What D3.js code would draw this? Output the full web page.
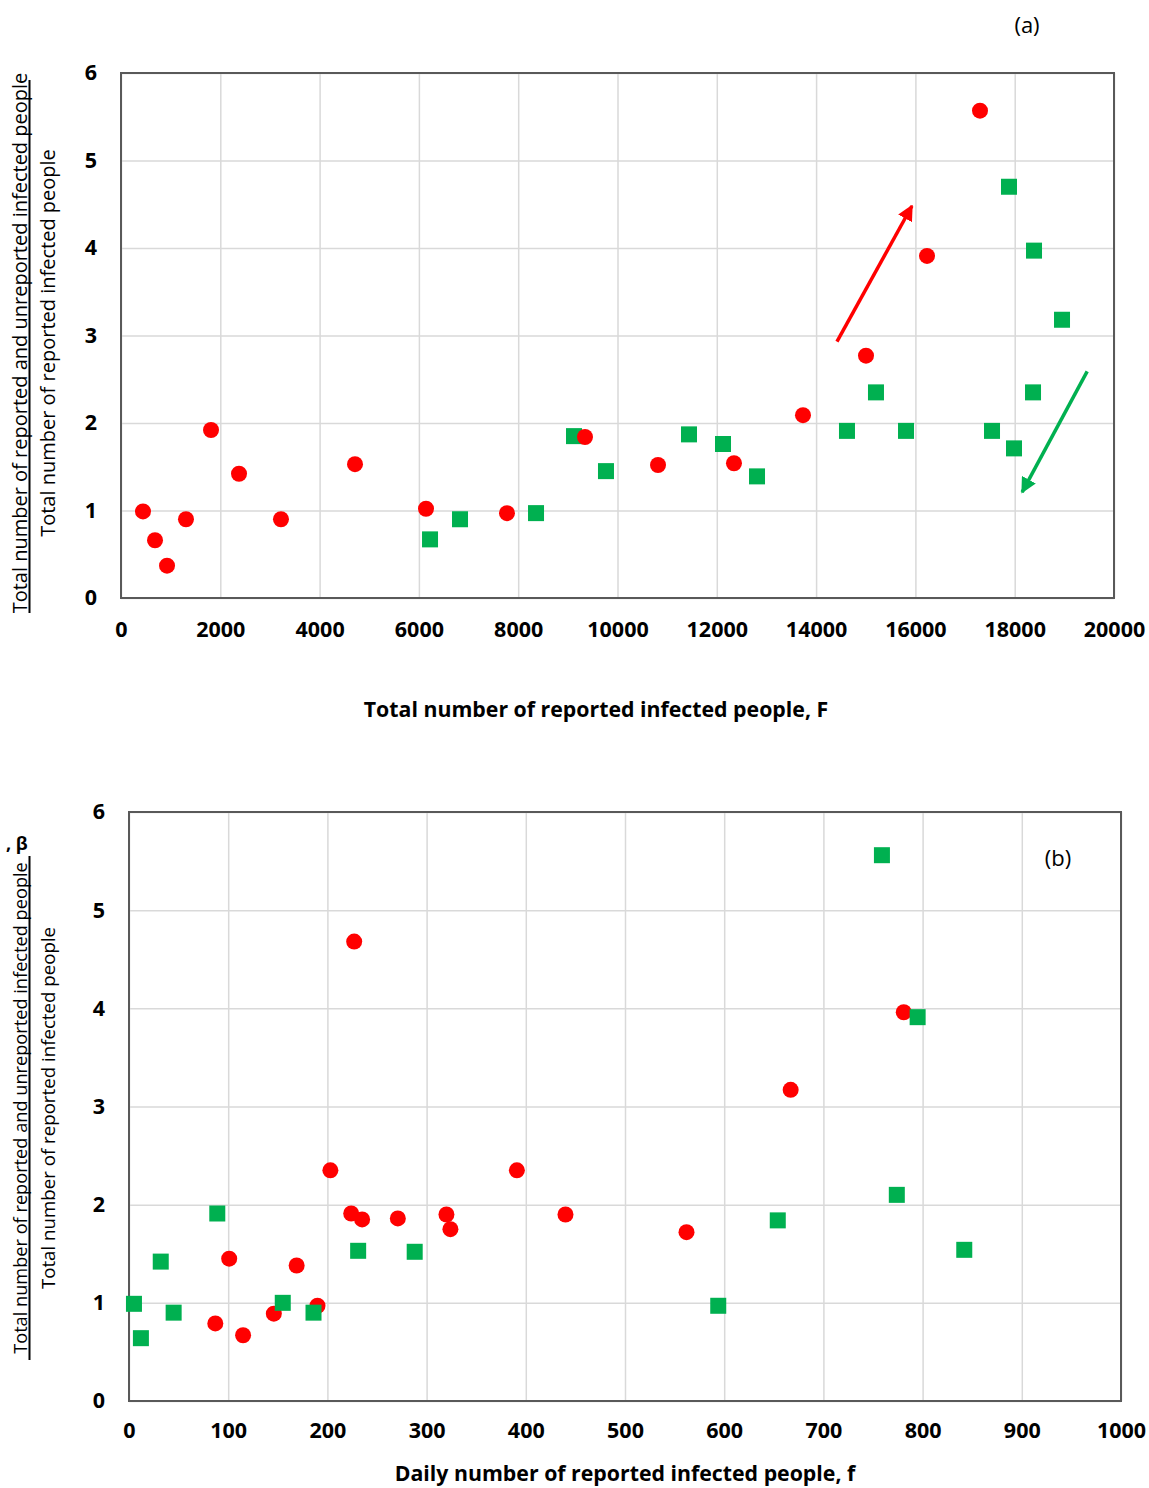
<!DOCTYPE html>
<html>
<head>
<meta charset="utf-8">
<script src="https://cdn.jsdelivr.net/npm/d3@7"></script>
<style>
  body { margin: 0; background: #fff; }
  svg { display: block; font-family: "Open Sans", sans-serif; }
</style>
</head>
<body>
<svg id="chart" width="1149" height="1488"></svg>
<script>
// panel (a): beta against total reported infected F
var aRedF    = [443, 685, 927, 1309, 1813, 2377, 3222, 4713, 6143, 7774, 9345, 10816, 12346, 13736, 15005, 16234, 17301];
var aRedBeta = [0.99, 0.66, 0.37, 0.90, 1.92, 1.42, 0.90, 1.53, 1.02, 0.97, 1.84, 1.52, 1.54, 2.09, 2.77, 3.91, 5.57];
var aGreenF    = [6224, 6828, 8359, 9124, 9768, 11440, 12125, 12810, 14622, 15206, 15811, 17543, 17885, 17986, 18389, 18369, 18953];
var aGreenBeta = [0.67, 0.90, 0.97, 1.85, 1.45, 1.87, 1.76, 1.39, 1.91, 2.35, 1.91, 1.91, 4.70, 1.71, 3.97, 2.35, 3.18];
// trend arrows [x1, y1, x2, y2] in data units
var aRedArrow   = [14420, 2.93, 15930, 4.48];
var aGreenArrow = [19460, 2.59, 18150, 1.21];

// panel (b): beta against daily reported infected f
var bRedf    = [87, 101, 115, 146, 169, 190, 203, 227, 224, 235, 271, 320, 324, 391, 440, 562, 667, 781];
var bRedBeta = [0.79, 1.45, 0.67, 0.89, 1.38, 0.97, 2.35, 4.68, 1.91, 1.85, 1.86, 1.90, 1.75, 2.35, 1.90, 1.72, 3.17, 3.96];
var bGreenf    = [5, 12, 32, 45, 89, 155, 186, 231, 288, 594, 654, 759, 774, 795, 842];
var bGreenBeta = [0.99, 0.64, 1.42, 0.90, 1.91, 1.00, 0.90, 1.53, 1.52, 0.97, 1.84, 5.56, 2.10, 3.91, 1.54];

var aTicksX = [0, 2000, 4000, 6000, 8000, 10000, 12000, 14000, 16000, 18000, 20000];
var bTicksX = [0, 100, 200, 300, 400, 500, 600, 700, 800, 900, 1000];
var ticksY = [0, 1, 2, 3, 4, 5, 6];

var numText = "Total number of reported and unreported infected people";
var denText = "Total number of reported infected people";

var svg = d3.select("#chart");

var red = "#ff0000";
var green = "#00b050";
var gridCol = "#d9d9d9";

function zip(xs, ys) {
	return xs.map(function(v, i) { return {x: v, y: ys[i]}; });
}

function panel(opt) {
	var x = d3.scaleLinear().domain(opt.xDomain).range(opt.xRange);
	var y = d3.scaleLinear().domain([0, 6]).range(opt.yRange);
	var g = svg.append("g");

	//grid
	g.append("g")
	.attr("transform", "translate(0," + opt.yRange[0] + ")")
	.call(d3.axisBottom(x).tickValues(opt.ticksX).tickSize(-(opt.yRange[0] - opt.yRange[1])).tickFormat(""))
	.call(function(s) { s.select(".domain").remove(); s.selectAll("line").attr("stroke", gridCol).attr("stroke-width", 1.5); });
	g.append("g")
	.attr("transform", "translate(" + opt.xRange[0] + ",0)")
	.call(d3.axisLeft(y).tickValues(ticksY).tickSize(-(opt.xRange[1] - opt.xRange[0])).tickFormat(""))
	.call(function(s) { s.select(".domain").remove(); s.selectAll("line").attr("stroke", gridCol).attr("stroke-width", 1.5); });

	//frame
	g.append("rect")
	.attr("x", opt.xRange[0]).attr("y", opt.yRange[1])
	.attr("width", opt.xRange[1] - opt.xRange[0])
	.attr("height", opt.yRange[0] - opt.yRange[1])
	.attr("fill", "none").attr("stroke", "#595959").attr("stroke-width", 2);

	//tick labels
	g.append("g")
	.attr("transform", "translate(0," + opt.yRange[0] + ")")
	.call(d3.axisBottom(x).tickValues(opt.ticksX).tickSize(0).tickPadding(opt.xPad).tickFormat(d3.format("d")))
	.call(function(s) {
		s.select(".domain").remove();
		s.selectAll("text").attr("font-family", "Open Sans").attr("font-weight", "bold").attr("font-size", 21.5).attr("fill", "#000");
	});
	g.append("g")
	.attr("transform", "translate(" + opt.xRange[0] + ",0)")
	.call(d3.axisLeft(y).tickValues(ticksY).tickSize(0).tickPadding(opt.yPad).tickFormat(d3.format("d")))
	.call(function(s) {
		s.select(".domain").remove();
		s.selectAll("text").attr("font-family", "Open Sans").attr("font-weight", "bold").attr("font-size", 21.5).attr("fill", "#000");
	});

	//x title
	g.append("text")
	.attr("x", opt.titleX).attr("y", opt.titleY)
	.attr("text-anchor", "middle")
	.attr("font-weight", "bold").attr("font-size", 21.3)
	.text(opt.title);

	//y title as fraction
	var cy = opt.fracY;
	g.append("text")
	.attr("transform", "translate(27," + cy + ") rotate(-90)")
	.attr("text-anchor", "middle").attr("font-size", opt.fracSize[0])
	.text(numText);
	g.append("line")
	.attr("x1", 29.5).attr("x2", 29.5)
	.attr("y1", opt.barY[0]).attr("y2", opt.barY[1])
	.attr("stroke", "#000").attr("stroke-width", 2);
	g.append("text")
	.attr("transform", "translate(55," + cy + ") rotate(-90)")
	.attr("text-anchor", "middle").attr("font-size", opt.fracSize[1])
	.text(denText);

	//panel tag
	g.append("text")
	.attr("x", opt.tag[0]).attr("y", opt.tag[1])
	.attr("text-anchor", "middle").attr("font-size", 22)
	.text(opt.tag[2]);

	function drawSquares() {
		g.selectAll(".sq" + opt.id).data(opt.green).enter()
		.append("rect")
		.attr("x", function(d) { return x(d.x) - 8; })
		.attr("y", function(d) { return y(d.y) - 8; })
		.attr("width", 16).attr("height", 16)
		.attr("fill", green);
	}
	function drawCircles() {
		g.selectAll(".ci" + opt.id).data(opt.red).enter()
		.append("circle")
		.attr("cx", function(d) { return x(d.x); })
		.attr("cy", function(d) { return y(d.y); })
		.attr("r", 8)
		.attr("fill", red);
	}
	if (opt.redOnTop) { drawSquares(); drawCircles(); }
	else { drawCircles(); drawSquares(); }

	return {x: x, y: y, g: g};
}

var defs = svg.append("defs");
[["arrRed", red], ["arrGreen", green]].forEach(function(m) {
	defs.append("marker")
	.attr("id", m[0])
	.attr("viewBox", "0 0 10 10")
	.attr("refX", 9).attr("refY", 5)
	.attr("markerWidth", 4.5).attr("markerHeight", 4.5)
	.attr("markerUnits", "strokeWidth")
	.attr("orient", "auto")
	.append("path").attr("d", "M0,0 L10,5 L0,10 z").attr("fill", m[1]);
});

var pa = panel({
	id: "a",
	xDomain: [0, 20000], xRange: [121, 1114], yRange: [598, 73],
	ticksX: aTicksX, xPad: 24, yPad: 24,
	title: "Total number of reported infected people, F", titleX: 596, titleY: 717,
	fracY: 343, fracSize: [20, 20], barY: [80, 613],
	tag: [1027, 33, "(a)"],
	red: zip(aRedF, aRedBeta), green: zip(aGreenF, aGreenBeta), redOnTop: true
});

[[aRedArrow, red, "arrRed"], [aGreenArrow, green, "arrGreen"]].forEach(function(a) {
	pa.g.append("line")
	.attr("x1", pa.x(a[0][0])).attr("y1", pa.y(a[0][1]))
	.attr("x2", pa.x(a[0][2])).attr("y2", pa.y(a[0][3]))
	.attr("stroke", a[1]).attr("stroke-width", 3.5)
	.attr("marker-end", "url(#" + a[2] + ")");
});

var pb = panel({
	id: "b",
	xDomain: [0, 1000], xRange: [129, 1121], yRange: [1401, 812],
	ticksX: bTicksX, xPad: 22, yPad: 24,
	title: "Daily number of reported infected people, f", titleX: 625, titleY: 1481,
	fracY: 1108, fracSize: [18.2, 18.7], barY: [856, 1360],
	tag: [1058, 866, "(b)"],
	red: zip(bRedf, bRedBeta), green: zip(bGreenf, bGreenBeta), redOnTop: false
});

svg.append("text")
.attr("x", 6).attr("y", 850)
.attr("font-weight", "bold").attr("font-size", 18)
.text(", \u03b2");
</script>
</body>
</html>
